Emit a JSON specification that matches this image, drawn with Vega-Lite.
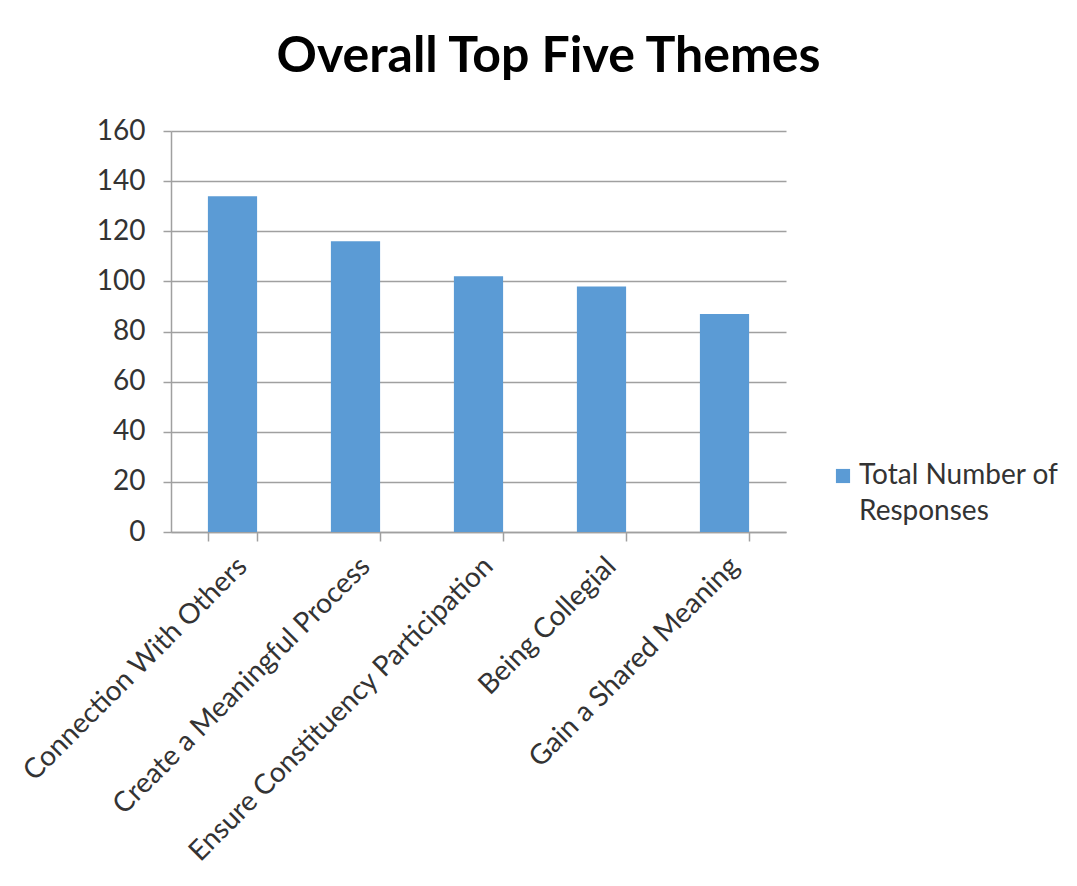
{
  "$schema": "https://vega.github.io/schema/vega-lite/v6.json",
  "width": 615,
  "height": 401,
  "autosize": {"type": "none"},
  "padding": {"left": 171, "top": 131, "right": 291, "bottom": 354},
  "background": "white",
  "title": {
    "text": "Overall Top Five Themes",
    "font": "Lato",
    "fontSize": 50,
    "fontWeight": "bold",
    "color": "#000000",
    "anchor": "middle",
    "dx": 70,
    "baseline": "alphabetic",
    "offset": -5
  },
  "data": {
    "values": [
      {"theme": "Connection With Others", "responses": 134, "series": "Total Number of Responses"},
      {"theme": "Create a Meaningful Process", "responses": 116, "series": "Total Number of Responses"},
      {"theme": "Ensure Constituency Participation", "responses": 102, "series": "Total Number of Responses"},
      {"theme": "Being Collegial", "responses": 98, "series": "Total Number of Responses"},
      {"theme": "Gain a Shared Meaning", "responses": 87, "series": "Total Number of Responses"}
    ]
  },
  "mark": {"type": "bar", "stroke": null},
  "encoding": {
    "x": {
      "field": "theme",
      "type": "nominal",
      "sort": null,
      "scale": {"paddingInner": 0.6, "paddingOuter": 0.3},
      "axis": {
        "title": null,
        "labelAngle": -45,
        "labelFont": "Lato",
        "labelFontSize": 28,
        "labelColor": "#333333",
        "labelPadding": 11,
        "labelLimit": 600,
        "tickBand": "extent",
        "tickSize": 9,
        "tickColor": "#a0a0a0",
        "tickWidth": 1.5,
        "domainColor": "#a0a0a0",
        "domainWidth": 1.5,
        "grid": false
      }
    },
    "y": {
      "field": "responses",
      "type": "quantitative",
      "scale": {"domain": [0, 160], "nice": false},
      "axis": {
        "title": null,
        "values": [0, 20, 40, 60, 80, 100, 120, 140, 160],
        "labelFont": "Lato",
        "labelFontSize": 28,
        "labelColor": "#333333",
        "labelPadding": 18,
        "tickSize": 8,
        "tickColor": "#a0a0a0",
        "tickWidth": 1.5,
        "domainColor": "#a0a0a0",
        "domainWidth": 1.5,
        "grid": true,
        "gridColor": "#a0a0a0",
        "gridWidth": 1.5
      }
    },
    "color": {
      "field": "series",
      "type": "nominal",
      "scale": {"range": ["#5B9BD5"]},
      "legend": {
        "title": null,
        "orient": "none",
        "legendX": 658,
        "legendY": 331,
        "symbolType": "square",
        "symbolSize": 200,
        "symbolStrokeWidth": 0,
        "labelFont": "Lato",
        "labelFontSize": 28,
        "labelColor": "#333333",
        "labelOffset": 2,
        "labelLimit": 400,
        "labelExpr": "['Total Number of', 'Responses']"
      }
    }
  },
  "config": {
    "view": {"stroke": null},
    "style": {"guide-label": {"lineHeight": 36}}
  }
}
